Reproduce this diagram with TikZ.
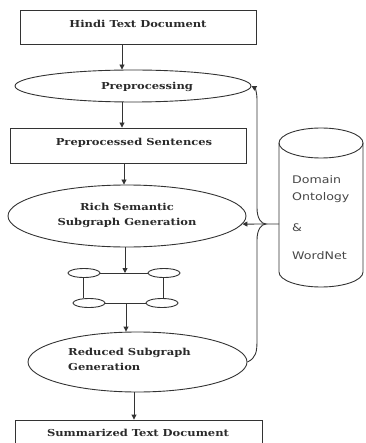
\documentclass[tikz,border=0pt]{standalone}
\usepackage{fontspec}
\setmainfont{DejaVu Serif}
\newfontfamily\lblfont{DejaVu Serif}[FakeStretch=1.2]
\newfontfamily\cylfont{DejaVu Sans}[FakeStretch=1.2]
\usetikzlibrary{shapes.geometric,arrows.meta}
\definecolor{ln}{HTML}{333333}
\definecolor{tx}{HTML}{2A2A2A}
\tikzset{
  base/.style={draw=ln, line width=0.9pt, inner sep=0pt},
  boxnode/.style={base, rectangle},
  ellnode/.style={base, ellipse},
  lbl/.style={inner sep=0pt, text=tx, font=\lblfont\bfseries\fontsize{9.6}{15}\selectfont},
  cyltxt/.style={inner sep=0pt, anchor=west, text=ln!90, font=\cylfont\fontsize{10.5}{12}\selectfont},
  arr/.style={draw=ln, line width=0.9pt, -{Triangle[width=5pt,length=5pt]}},
  conn/.style={draw=ln, line width=0.9pt}
}
\begin{document}
\begin{tikzpicture}[x=1pt,y=-1pt]
\useasboundingbox (0,0) rectangle (365,443);
\clip (0,0) rectangle (365,443);
% boxes
\node[boxnode, minimum width=236, minimum height=34] (b1) at (138,27) {};
\node[lbl] (t1) at (138,24) {Hindi Text Document};
\node[ellnode, minimum width=236, minimum height=32] (pre) at (133,86) {};
\node[lbl] (t2) at (147,87) {Preprocessing};
\node[boxnode, minimum width=236, minimum height=35] (b2) at (128,145.5) {};
\node[lbl] (t3) at (134,143) {Preprocessed Sentences};
\node[ellnode, minimum width=238, minimum height=62] (rich) at (127,216) {};
\node[lbl, align=center] (t4) at (127,215) {Rich Semantic\\Subgraph Generation};
% small graph
\node[ellnode, minimum width=32, minimum height=9] (g1) at (84,273) {};
\node[ellnode, minimum width=32, minimum height=9] (g2) at (164,273) {};
\node[ellnode, minimum width=32, minimum height=9] (g3) at (89,303) {};
\node[ellnode, minimum width=32, minimum height=9] (g4) at (162,303) {};
\draw[conn] (g1) -- (g2);
\draw[conn] (g3) -- (g4);
\draw[conn] (g1.south -| 83,0) -- (g3.north -| 83,0);
\draw[conn] (g2.south -| 163,0) -- (g4.north -| 163,0);
\node[ellnode, minimum width=219, minimum height=60] (red) at (137.5,362) {};
\node[lbl, align=left, anchor=west] (t5) at (68,359.5) {Reduced Subgraph\\Generation};
\node[boxnode, minimum width=247, minimum height=26] (b3) at (138.5,433) {};
\node[lbl] (t6) at (138,433) {Summarized Text Document};
% vertical arrows
\draw[arr] (b1.south -| 122,0) -- (pre.north -| 122,0);
\draw[arr] (pre.south -| 122,0) -- (b2.north -| 122,0);
\draw[arr] (b2.south -| 124,0) -- (rich.north -| 124,0);
\draw[arr] (rich.south -| 125,0) -- (g1.east -| 125,0);
\draw[arr] (g3.east -| 126,0) -- (red.north -| 126,0);
\draw[arr] (red.south -| 134,0) -- (b3.north -| 134,0);
% cylinder
\draw[conn] (321,143) ellipse [x radius=42, y radius=15];
\draw[conn] (279,143) -- (279,272) arc[start angle=180, end angle=0, x radius=42, y radius=15] -- (363,143);
\coordinate (cylw) at (279,224);
\node[cyltxt] (c1) at (292,180) {Domain};
\node[cyltxt] (c2) at (292,198) {Ontology};
\node[cyltxt] (c3) at (292,228) {\&};
\node[cyltxt] (c4) at (292,256) {WordNet};
% feedback connector
\draw[arr] (red.east) .. controls (256,358) and (257,352) .. (257,340)
  -- (257,240) .. controls (257,230) and (261,224) .. (266,224)
  .. controls (261,224) and (257,218) .. (257,208)
  -- (257,100) .. controls (257,92) and (255,88) .. (pre.east);
\draw[arr] (cylw) -- (rich.-4);
\end{tikzpicture}
\end{document}
